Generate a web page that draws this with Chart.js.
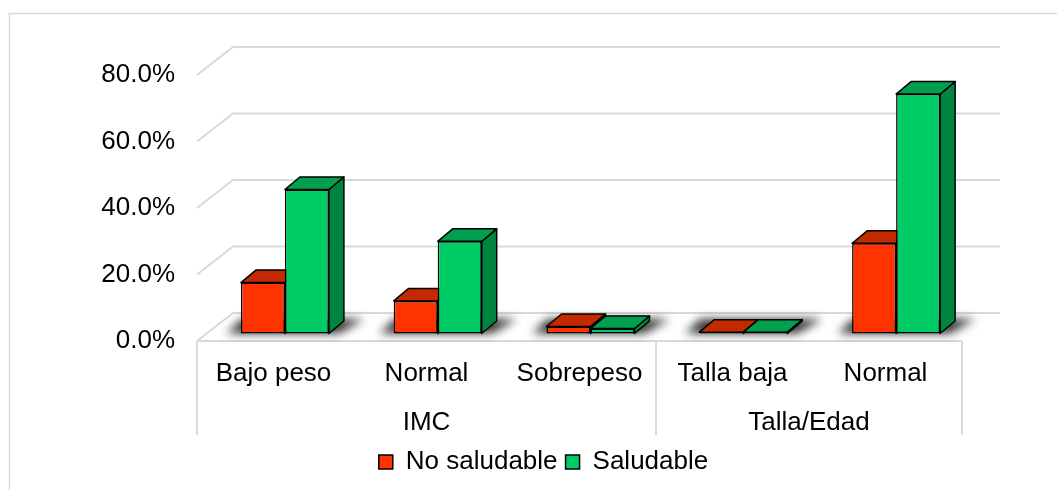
<!DOCTYPE html>
<html><head><meta charset="utf-8">
<script src="https://cdn.jsdelivr.net/npm/chart.js@4.4.1/dist/chart.umd.min.js"></script>
<style>html,body{margin:0;padding:0;background:#fff}#wrap{position:relative;width:1057px;height:490px}</style>
</head><body><div id="wrap"><canvas id="c"></canvas></div>
<script>
const categories = ['Bajo peso', 'Normal', 'Sobrepeso', 'Talla baja', 'Normal'];
const groups = ['IMC', 'Talla/Edad'];
const groupSizes = [3, 2];
const seriesNames = ['No saludable', 'Saludable'];
const noSaludable = [15.3, 9.8, 2.1, 0.4, 27.1];
const saludable = [43.3, 27.7, 1.5, 0.4, 72.0];
const yTicks = [0, 20, 40, 60, 80];

const FONT = {family: "'Liberation Sans', Arial, sans-serif", size: 26};
const DEPTH = {dx: 36, dy: 28};
const BAR3D = {dx: 15, dy: 12.5};
const GRID = '#d9d9d9';
const faceColors = [
  {front: '#FF3300', top: '#C42A00', side: '#A82400'},
  {front: '#00CC66', top: '#00A050', side: '#00843F'}
];

function poly(ctx, pts, fill) {
  ctx.beginPath();
  ctx.moveTo(pts[0][0], pts[0][1]);
  for (let i = 1; i < pts.length; i++) ctx.lineTo(pts[i][0], pts[i][1]);
  ctx.closePath();
  ctx.fillStyle = fill; ctx.fill(); ctx.stroke();
}

function drawFaces(chart, di) {
  const ctx = chart.ctx;
  const meta = chart.getDatasetMeta(di);
  const c = faceColors[di];
  ctx.save();
  ctx.lineWidth = 1.5; ctx.strokeStyle = '#000'; ctx.lineJoin = 'round';
  meta.data.forEach(el => {
    const p = el.getProps(['x', 'y', 'base', 'width'], true);
    const l = p.x - p.width / 2, r = p.x + p.width / 2;
    const t = Math.min(p.y, p.base), b = Math.max(p.y, p.base);
    poly(ctx, [[r, t], [r + BAR3D.dx, t - BAR3D.dy], [r + BAR3D.dx, b - BAR3D.dy], [r, b]], c.side);
    poly(ctx, [[l, t], [r, t], [r + BAR3D.dx, t - BAR3D.dy], [l + BAR3D.dx, t - BAR3D.dy]], c.top);
  });
  ctx.restore();
}

const plot3d = {
  id: 'plot3d',
  beforeDraw(chart) {
    const ctx = chart.ctx;
    ctx.save();
    ctx.strokeStyle = GRID; ctx.lineWidth = 1.5;
    ctx.beginPath();
    ctx.moveTo(9.5, 490); ctx.lineTo(9.5, 13.5); ctx.lineTo(1057, 13.5);
    ctx.stroke();
    ctx.restore();
  },
  beforeDatasetsDraw(chart) {
    const {ctx, chartArea: a, scales} = chart;
    const y = scales.y;
    ctx.save();
    ctx.strokeStyle = GRID; ctx.lineWidth = 2;
    yTicks.forEach(v => {
      const py = y.getPixelForValue(v);
      ctx.beginPath();
      ctx.moveTo(a.left, py);
      ctx.lineTo(a.left + DEPTH.dx, py - DEPTH.dy);
      ctx.lineTo(a.right + DEPTH.dx + 2, py - DEPTH.dy);
      ctx.stroke();
    });
    const y0 = y.getPixelForValue(0);
    ctx.beginPath(); ctx.moveTo(a.left, y0); ctx.lineTo(a.right, y0); ctx.stroke();
    // shadows on the floor
    const m0 = chart.getDatasetMeta(0), m1 = chart.getDatasetMeta(1);
    ctx.filter = 'blur(5px)';
    ctx.fillStyle = 'rgba(0,0,0,0.8)';
    m0.data.forEach((el, i) => {
      const p0 = el.getProps(['x', 'base', 'width'], true);
      const p1 = m1.data[i].getProps(['x', 'width'], true);
      const l = p0.x - p0.width / 2 - 14, r = p1.x + p1.width / 2 + 10;
      const b = p0.base;
      ctx.beginPath();
      ctx.moveTo(l, b);
      ctx.lineTo(r, b);
      ctx.lineTo(r + BAR3D.dx + 10, b - BAR3D.dy - 2);
      ctx.lineTo(l + BAR3D.dx, b - BAR3D.dy - 2);
      ctx.closePath();
      ctx.fill();
    });
    ctx.filter = 'none';
    ctx.restore();
    drawFaces(chart, 0);
  },
  afterDatasetsDraw(chart) {
    drawFaces(chart, 1);
  },
  afterDraw(chart) {
    const {ctx, chartArea: a, scales} = chart;
    const x = scales.x;
    const half = (x.getPixelForValue(1) - x.getPixelForValue(0)) / 2;
    ctx.save();
    ctx.strokeStyle = GRID; ctx.lineWidth = 2;
    const bottomLine = 435;
    let idx = 0;
    const bounds = [a.left];
    groupSizes.forEach(n => { idx += n; bounds.push(x.getPixelForValue(idx - 1) + half); });
    bounds.forEach(bx => {
      ctx.beginPath(); ctx.moveTo(bx, a.bottom); ctx.lineTo(bx, bottomLine); ctx.stroke();
    });
    ctx.fillStyle = '#000';
    ctx.font = FONT.size + 'px ' + FONT.family;
    ctx.textAlign = 'center'; ctx.textBaseline = 'alphabetic';
    groups.forEach((g, gi) => {
      ctx.fillText(g, (bounds[gi] + bounds[gi + 1]) / 2, 429.5);
    });
    ctx.restore();
  }
};

new Chart(document.getElementById('c'), {
  type: 'bar',
  data: {
    labels: categories,
    datasets: [
      {label: seriesNames[0], data: noSaludable.map((v, i) => ({x: i, y: v})),
       backgroundColor: faceColors[0].front, borderColor: '#000', borderWidth: 1.5, borderSkipped: false,
       xAxisID: 'xb', yAxisID: 'yb', categoryPercentage: 0.576, barPercentage: 1},
      {label: seriesNames[1], data: saludable.map((v, i) => ({x: i, y: v})),
       backgroundColor: faceColors[1].front, borderColor: '#000', borderWidth: 1.5, borderSkipped: false,
       xAxisID: 'xb', yAxisID: 'yb', categoryPercentage: 0.576, barPercentage: 1}
    ]
  },
  options: {
    responsive: true, maintainAspectRatio: false, animation: false,
    layout: {padding: {top: 75, left: 30, right: 0, bottom: 5}},
    plugins: {
      tooltip: {enabled: false},
      legend: {position: 'bottom', labels: {font: FONT, color: '#000', boxWidth: 14, boxHeight: 14, padding: 8}}
    },
    scales: {
      x: {type: 'category', labels: categories, offset: true, position: 'bottom',
          grid: {display: false, drawTicks: false}, border: {display: false},
          ticks: {font: FONT, color: '#000', padding: 17, maxRotation: 0, autoSkip: false},
          afterFit(s) { s.height = 100; }},
      xb: {type: 'linear', display: false, min: -0.5753, max: 4.4312, offset: false,
           afterBuildTicks(s) { s.ticks = categories.map((c, i) => ({value: i})); }},
      y: {type: 'linear', position: 'left', min: 0, max: 80,
          grid: {display: false, drawTicks: false}, border: {display: false},
          ticks: {font: FONT, color: '#000', padding: 22, callback: v => v.toFixed(1) + '%'},
          afterBuildTicks(s) { s.ticks = yTicks.map(v => ({value: v})); },
          afterFit(s) { s.width = 167; }},
      yb: {type: 'linear', position: 'right', min: -2.264, max: 77.736,
           grid: {display: false, drawTicks: false}, border: {display: false},
           ticks: {display: false}, afterFit(s) { s.width = 95; }}
    }
  },
  plugins: [plot3d]
});
</script>
</body></html>
